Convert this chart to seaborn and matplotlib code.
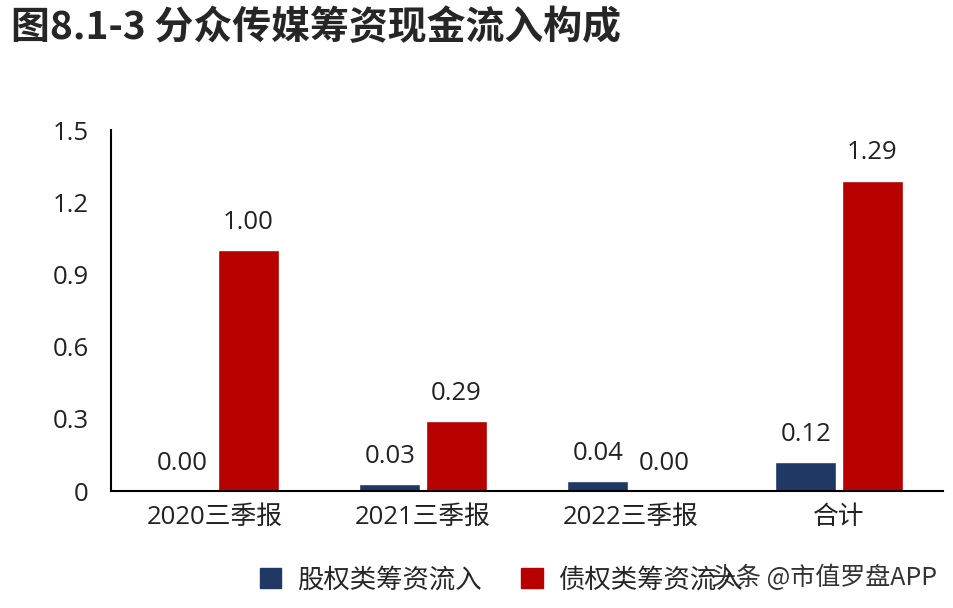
#! /usr/bin/env python3
# coding: utf-8
"""
分众传媒筹资现金流入构成 - grouped bar chart.
"""
import pandas as pd
import matplotlib.pyplot as plt
import seaborn as sb

categories = ['2020三季报', '2021三季报', '2022三季报', '合计']
equity_inflow = [0.00, 0.03, 0.04, 0.12]
debt_inflow = [1.00, 0.29, 0.00, 1.29]
series_names = ['股权类筹资流入', '债权类筹资流入']
y_ticks = [0, 0.3, 0.6, 0.9, 1.2, 1.5]
y_tick_labels = ['0', '0.3', '0.6', '0.9', '1.2', '1.5']

colors = ['#1F3864', '#B80000']

sb.set_style('white')
plt.rcParams['font.family'] = ['Open Sans', 'Noto Sans CJK SC', 'DejaVu Sans']

data = pd.DataFrame({
    'category': categories * 2,
    'value': equity_inflow + debt_inflow,
    'series': [series_names[0]] * 4 + [series_names[1]] * 4,
})

fig = plt.figure(figsize=(9.54, 6.08), dpi=100)
ax = fig.add_axes([0.1164, 0.1924, 0.872, 0.5936])

sb.barplot(data=data, x='category', y='value', hue='series',
           palette=colors, width=0.64, gap=0.09, saturation=1,
           ax=ax, legend=False)

for container in ax.containers:
    ax.bar_label(container, fmt='%.2f', padding=11, fontsize=18.5, color='#222222')

ax.set_xlim(-0.5, 3.5)
ax.set_ylim(0, 1.5)
ax.set_yticks(y_ticks)
ax.set_yticklabels(y_tick_labels)
ax.set_xlabel('')
ax.set_ylabel('')
ax.tick_params(axis='both', length=0, labelsize=18.5, colors='#222222')
ax.tick_params(axis='x', pad=10)
ax.tick_params(axis='y', pad=16)

for side in ['top', 'right']:
    ax.spines[side].set_visible(False)
for side in ['left', 'bottom']:
    ax.spines[side].set_color('black')
    ax.spines[side].set_linewidth(1.5)

# Legend at the bottom
handles = [plt.Rectangle((0, 0), 1, 1, color=c) for c in colors]
fig.legend(handles, series_names, loc='center left', bbox_to_anchor=(0.248, 0.046),
           ncol=2, frameon=False, handlelength=0.8, handleheight=0.8,
           columnspacing=1.5, handletextpad=0.6,
           prop={'family': ['Noto Sans CJK SC'], 'size': 19})

fig.text(0.012, 0.955, '图8.1-3 分众传媒筹资现金流入构成', fontsize=28, fontweight='bold',
         family=['Noto Sans CJK SC'], va='center', ha='left')

# watermark (overlaps the legend as in the source image)
fig.text(0.982, 0.05, '头条 @市值罗盘APP', fontsize=18, color='#333333',
         family=['Noto Sans CJK SC'], va='center', ha='right',
         bbox=dict(facecolor='white', edgecolor='none', alpha=0.5, pad=0))

plt.savefig('out.png', dpi=100)
